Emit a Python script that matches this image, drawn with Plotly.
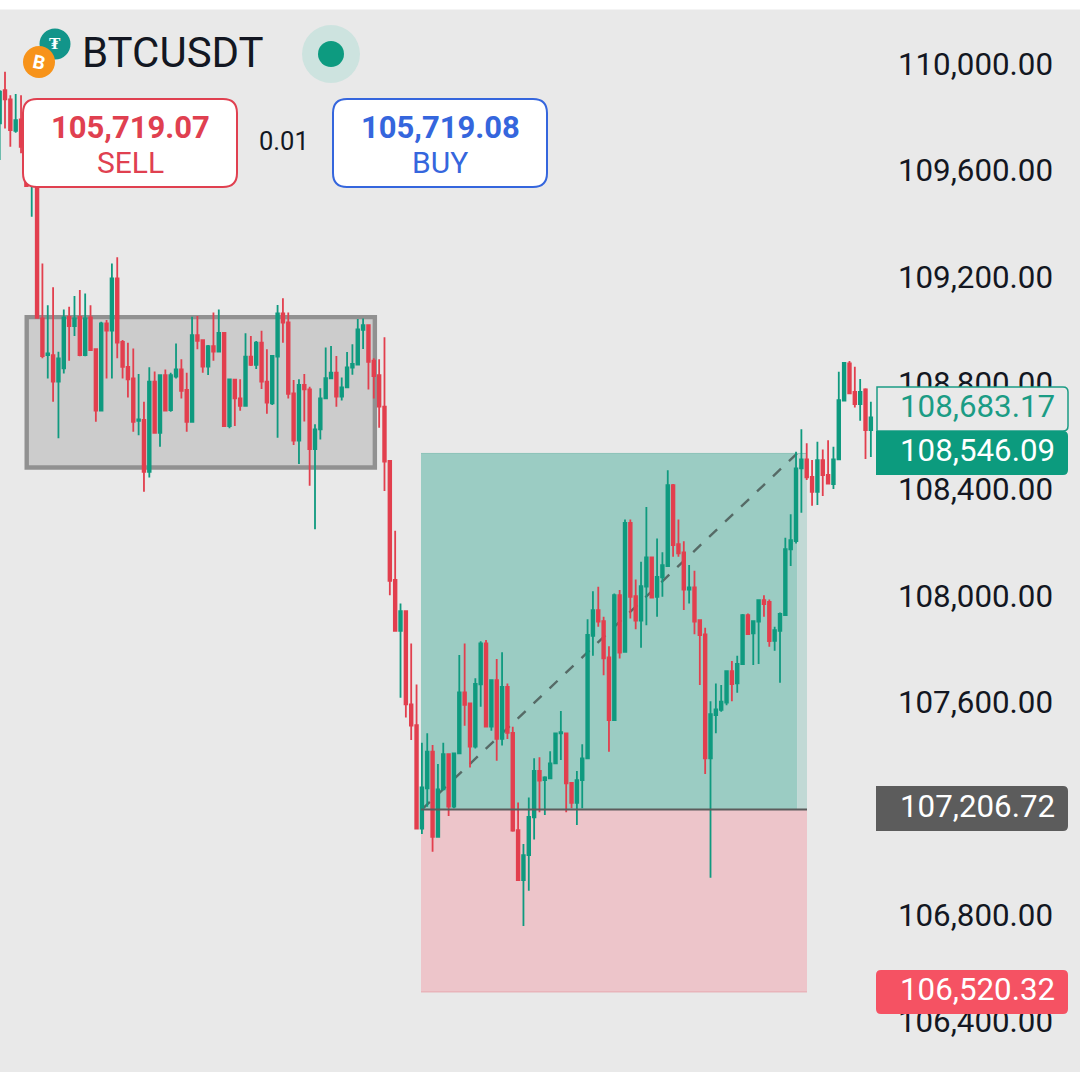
import plotly.graph_objects as go

W, H = 1080, 1072

bars = list(range(-1, 163))
opens = [109788,109913,109878,109760,109803,109700,109575,109593,109054,108916,108916,108816,108866,109060,109025,109060,108916,109058,108938,108707,109035,109008,109205,108966,108872,108828,108669,108672,108477,108816,108624,108841,108709,108835,108862,108785,108665,108991,108972,108873,108950,108929,109000,108649,108824,108753,108725,108910,108879,108963,108816,108735,108910,109073,109039,108772,108594,108804,108787,108562,108637,108753,108829,108850,108760,108795,108869,108880,109011,109029,108895,108841,108722,108518,108070,107879,107953,107602,107524,107135,107286,107424,107104,107282,107415,107217,107418,107647,107606,107443,107677,107831,107518,107693,107472,107668,107495,107129,106941,107035,107177,107352,107317,107324,107380,107493,107493,107307,107232,107317,107399,107860,107957,107915,107779,107543,108013,107800,108285,108009,107917,108045,108155,108007,108080,108122,108427,108205,108174,108034,108042,107919,107865,107399,107562,107581,107609,107727,107681,107754,107938,107869,107913,107994,107988,107841,107879,107938,108185,108216,108490,108524,108458,108402,108521,108465,108431,108524,108745,108885,108778,108732,108787,108634]
highs = [109913,109982,109894,109898,109894,109725,109675,109612,109261,109104,109171,108929,109088,109098,109138,109161,109148,109104,108940,109042,109048,109261,109284,108973,108963,108941,108845,108741,108870,108854,108842,108862,108850,108960,108900,108850,109060,109063,108973,108954,109076,109088,109003,108827,108826,108825,108998,108988,108969,109008,108938,108916,109105,109130,109076,108822,108825,108845,108797,108656,108791,108945,108950,108913,108832,108928,108957,109052,109054,109031,108904,108900,108983,108520,108255,107982,107956,107831,107677,107458,107493,107449,107378,107458,107417,107420,107788,107831,107608,107700,107840,107844,107695,107773,107798,107681,107518,107233,107077,107252,107399,107403,107332,107426,107495,107577,107495,107309,107351,107452,107922,108028,108045,107932,107821,108019,108032,108298,108298,108072,108139,108345,108157,108226,108174,108483,108431,108298,108216,108126,108105,107922,107890,107614,107681,107675,107729,107765,107785,107942,107944,107917,107996,108013,107997,107894,107948,108229,108317,108552,108637,108584,108521,108590,108561,108596,108571,108853,108889,108894,108872,108826,108791,108741]
lows = [109650,109769,109700,109753,109675,109549,109437,109054,108904,108828,108741,108603,108847,108895,108988,108912,108912,108932,108665,108704,108828,108828,108904,108828,108757,108628,108615,108402,108456,108620,108571,108704,108703,108828,108753,108628,108662,108938,108850,108841,108895,108926,108647,108641,108649,108707,108722,108875,108864,108789,108695,108728,108605,108963,108753,108578,108506,108666,108425,108261,108599,108750,108825,108722,108745,108793,108842,108878,108939,108787,108753,108643,108405,108013,107876,107627,107553,107468,107132,107114,107217,107048,107102,107280,107182,107211,107416,107522,107365,107436,107593,107516,107503,107390,107447,107472,107123,106939,106768,106901,107094,107196,107186,107321,107378,107393,107196,107211,107148,107211,107397,107785,107894,107712,107424,107541,107775,107798,107925,107885,107815,107900,108001,107932,108007,108120,108157,108157,107957,107982,107866,107675,107340,106950,107493,107574,107599,107614,107646,107752,107863,107750,107754,107932,107819,107804,107683,107936,108123,108207,108323,108446,108349,108352,108386,108431,108412,108522,108743,108769,108719,108669,108525,108533]
closes = [109907,109878,109763,109800,109700,109552,109650,109056,108912,108922,108816,108904,109058,109025,109054,108916,109054,108935,108707,109035,109008,109205,108963,108872,108825,108665,108674,108477,108816,108624,108841,108707,108841,108862,108782,108665,108991,108970,108873,108950,108929,109000,108649,108825,108753,108725,108910,108879,108963,108816,108737,108913,109073,109038,108770,108594,108804,108787,108562,108637,108753,108829,108850,108760,108795,108870,108883,109013,109029,108891,108837,108722,108515,108067,107879,107953,107602,107522,107135,107290,107424,107104,107282,107415,107217,107418,107647,107600,107443,107679,107831,107518,107693,107472,107668,107495,107127,106941,107035,107179,107352,107315,107327,107380,107493,107498,107305,107232,107317,107399,107863,107957,107913,107775,107543,108013,107797,108285,108007,107917,108047,108155,108004,108082,108126,108427,108201,108170,108034,108042,107913,107863,107399,107565,107583,107612,107727,107678,107754,107938,107866,107915,107994,107979,107840,107881,107942,108186,108220,108490,108524,108456,108402,108521,108465,108433,108524,108747,108887,108772,108732,108778,108634,108682]

y_ticks = [110000, 109600, 109200, 108800, 108400, 108000, 107600, 106800, 106400]
target_price = 108546.09
entry_price = 107206.72
stop_price = 106520.32
live_price = 108683.17
sell_text, buy_text, lot_text, symbol = "105,719.07", "105,719.08", "0.01", "BTCUSDT"
zone_start, zone_mid, zone_end = 77.83, 148.2, 150.05
range_left, range_right, range_top, range_bottom = 4.06, 69.2, 109059, 108493
trend_start, trend_end = 78.0, 148.2

RED, GREEN, BG = "#e23f4e", "#0f9a7f", "#e9e9e9"
FONT = "Roboto"


def px(x):
    return x / W


def py(y):
    return 1 - y / H


def rounded(x0, y0, x1, y1, r=(14, 14, 14, 14)):
    tl, tr, br, bl = r
    pts = [
        f"M{px(x0 + tl)},{py(y0)}", f"L{px(x1 - tr)},{py(y0)}",
        f"Q{px(x1)},{py(y0)} {px(x1)},{py(y0 + tr)}", f"L{px(x1)},{py(y1 - br)}",
        f"Q{px(x1)},{py(y1)} {px(x1 - br)},{py(y1)}", f"L{px(x0 + bl)},{py(y1)}",
        f"Q{px(x0)},{py(y1)} {px(x0)},{py(y1 - bl)}", f"L{px(x0)},{py(y0 + tl)}",
        f"Q{px(x0)},{py(y0)} {px(x0 + tl)},{py(y0)}", "Z",
    ]
    return "".join(pts)


def ui_path(x0, y0, x1, y1, fill, line=None, lw=0, r=(14, 14, 14, 14)):
    return dict(type="path", xref="paper", yref="paper", path=rounded(x0, y0, x1, y1, r),
                fillcolor=fill, line=dict(color=line or fill, width=lw), layer="above")


def circle(cx, cy, rad, fill):
    return dict(type="circle", xref="paper", yref="paper", x0=px(cx - rad), x1=px(cx + rad),
                y0=py(cy + rad), y1=py(cy - rad), fillcolor=fill, line=dict(width=0), layer="above")


def text(x, y, s, size, color, anchor="center", bold=False, angle=0):
    return dict(xref="paper", yref="paper", x=px(x), y=py(y), text=f"<b>{s}</b>" if bold else s,
                showarrow=False, xanchor=anchor, yanchor="middle", textangle=angle,
                font=dict(family=FONT, size=size, color=color))


fig = go.Figure(go.Candlestick(
    x=bars, open=opens, high=highs, low=lows, close=closes, whiskerwidth=0,
    increasing=dict(line=dict(color=GREEN, width=1.8), fillcolor=GREEN),
    decreasing=dict(line=dict(color=RED, width=1.8), fillcolor=RED),
    hoverinfo="skip", showlegend=False,
))

shapes = [
    dict(type="rect", xref="x", yref="y", x0=range_left, x1=range_right, y0=range_bottom, y1=range_top,
         fillcolor="#cccccc", line=dict(color="#919191", width=4.4), layer="below"),
    dict(type="rect", xref="x", yref="y", x0=zone_start, x1=zone_end, y0=stop_price, y1=entry_price,
         fillcolor="#edc5ca", line=dict(width=0), layer="below"),
    dict(type="rect", xref="x", yref="y", x0=zone_start, x1=zone_mid, y0=entry_price, y1=target_price,
         fillcolor="#9bccc3", line=dict(width=0), layer="below"),
    dict(type="rect", xref="x", yref="y", x0=zone_mid, x1=zone_end, y0=entry_price, y1=target_price,
         fillcolor="#c1d9d5", line=dict(width=0), layer="below"),
    dict(type="line", xref="x", yref="y", x0=zone_start, x1=zone_end, y0=target_price, y1=target_price,
         line=dict(color="#8cc3b8", width=1), layer="below"),
    dict(type="line", xref="x", yref="y", x0=zone_start, x1=zone_end, y0=stop_price, y1=stop_price,
         line=dict(color="#e6a9b0", width=1), layer="below"),
    dict(type="line", xref="x", yref="y", x0=zone_start, x1=zone_end, y0=entry_price, y1=entry_price,
         line=dict(color="#5c5c5c", width=2), layer="above"),
    dict(type="line", xref="x", yref="y", x0=trend_start, x1=trend_end, y0=entry_price, y1=target_price,
         line=dict(color="#566a66", width=2.4, dash="11px,11px"), layer="below"),
    # page strip at the top
    dict(type="rect", xref="paper", yref="paper", x0=0, x1=1, y0=py(9.5), y1=1, fillcolor="#ffffff",
         line=dict(width=0), layer="above"),
    # header badges
    circle(331, 54, 29, "#cde3df"), circle(331, 54, 13, "#0d9b80"),
    circle(55, 44, 15.5, "#12958a"), circle(39, 62, 16, "#f7931a"),
    # order buttons
    ui_path(23, 99, 237, 187, "#ffffff", "#e04050", 2),
    ui_path(333, 99, 547, 187, "#ffffff", "#3566dd", 2),
    # price flags
    ui_path(877, 387, 1068, 431, BG, "#1b9c85", 1.5, (0, 5, 5, 0)),
    ui_path(876, 431, 1068, 475, "#0c9b7e", None, 0, (0, 5, 5, 0)),
    ui_path(876, 786, 1068, 831, "#5c5c5c", None, 0, (0, 5, 5, 0)),
    ui_path(876, 970, 1068, 1014, "#f55263", None, 0, (5, 5, 5, 5)),
]

flag_right = 1057
annotations = [
    text(80, 53, symbol, 42, "#131722", "left"),
    text(55, 43, "₮", 17, "#ffffff", bold=True),
    text(39, 62, "B", 19, "#ffffff", bold=True, angle=12),
    text(130, 127, sell_text, 31, "#e04050", bold=True),
    text(130, 162, "SELL", 30, "#e04050"),
    text(440, 127, buy_text, 31, "#3566dd", bold=True),
    text(440, 162, "BUY", 30, "#3566dd"),
    text(284, 141, lot_text, 25.5, "#131722"),
    text(flag_right, 406, f"{live_price:,.2f}", 31.3, "#1b9c85", "right"),
    text(flag_right, 451, f"{target_price:,.2f}", 31.3, "#ffffff", "right"),
    text(flag_right, 806, f"{entry_price:,.2f}", 31.3, "#ffffff", "right"),
    text(flag_right, 989, f"{stop_price:,.2f}", 31.3, "#ffffff", "right"),
]

fig.update_layout(
    width=W, height=H, autosize=False, margin=dict(l=0, r=0, t=0, b=0),
    paper_bgcolor=BG, plot_bgcolor=BG, showlegend=False, hovermode=False,
    shapes=shapes, annotations=annotations,
    xaxis=dict(range=[-0.9355, 201.13], visible=False, rangeslider=dict(visible=False), fixedrange=True),
    yaxis=dict(range=[106219, 110252], side="right", showgrid=False, zeroline=False, showline=False,
               ticks="", tickmode="array", tickvals=y_ticks, tickformat=",.2f",
               ticklabelposition="inside", ticklabelshift=-3, ticklabelstandoff=24,
               tickfont=dict(family=FONT, size=31.3, color="#131722"), fixedrange=True),
)

fig.write_html("out.html", config=dict(displayModeBar=False),
               post_script="document.body.style.margin='0';document.documentElement.style.overflow='hidden';")
